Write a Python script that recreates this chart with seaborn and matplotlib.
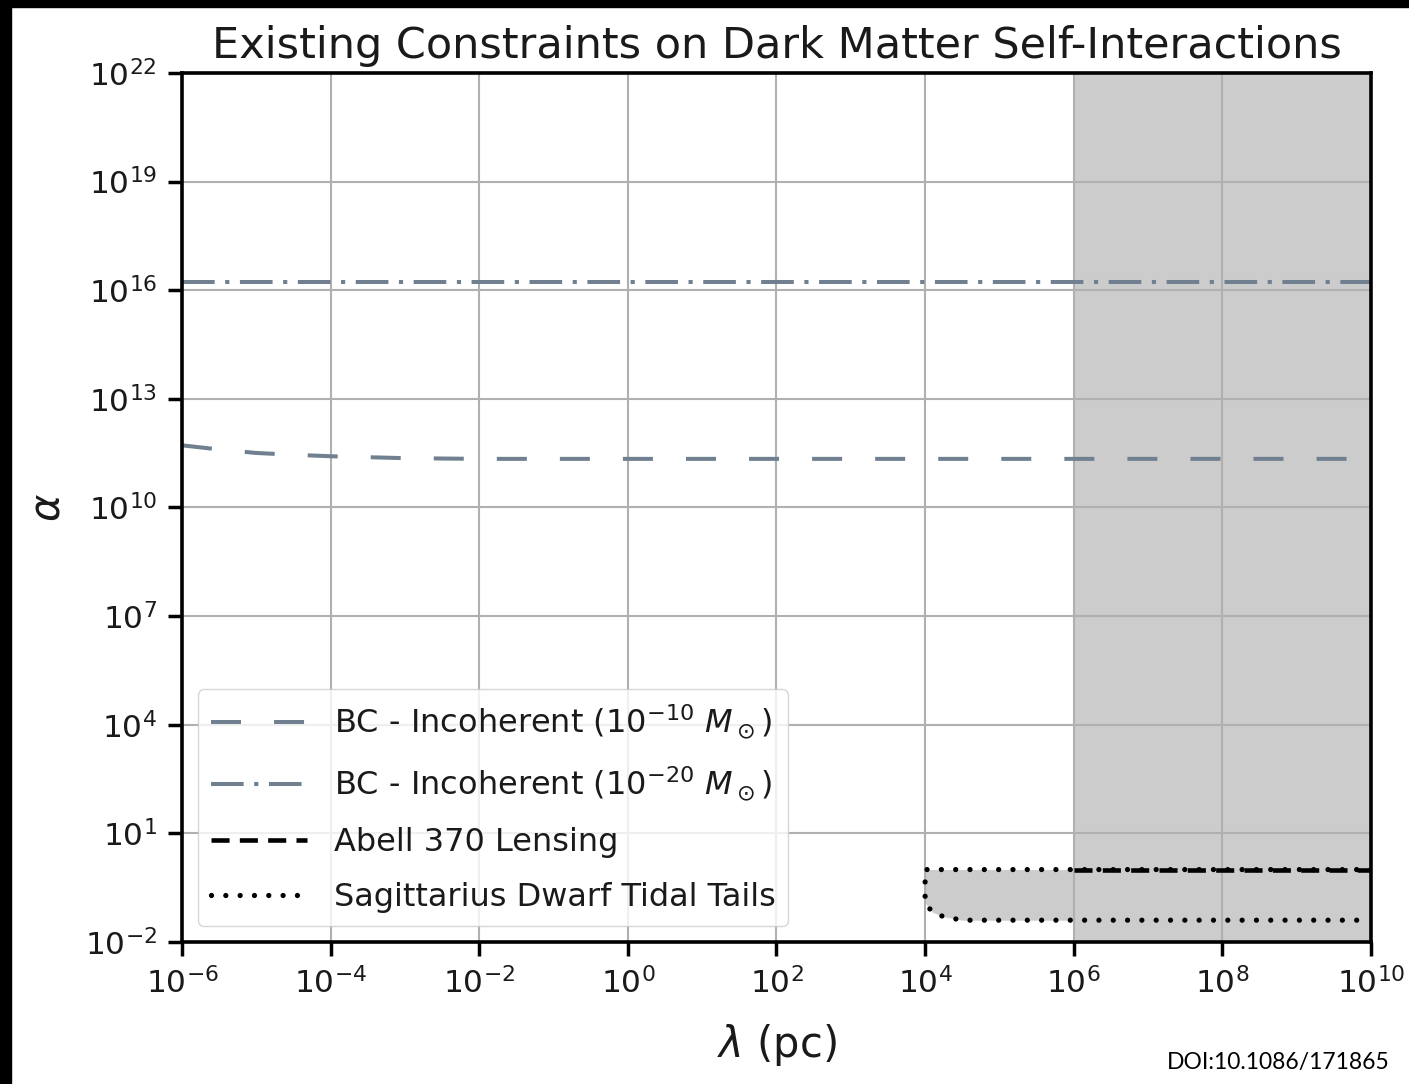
import numpy as np
import pandas as pd
import matplotlib
matplotlib.use("Agg")
import matplotlib.pyplot as plt
from matplotlib.patches import Rectangle
from matplotlib.ticker import NullLocator
import seaborn as sns

# ---- data -------------------------------------------------------------
# BC - incoherent bound for 1e-10 solar masses
bc10_lam = [1e-6, 10**-5.5, 1e-5, 10**-4.5, 1e-4, 1e-3, 1e-2, 1e0, 1e2, 1e4, 1e6, 1e8, 1e10]
bc10_alpha = [5.2e11, 4.0e11, 3.2e11, 2.85e11, 2.6e11, 2.3e11, 2.2e11, 2.2e11,
              2.2e11, 2.2e11, 2.2e11, 2.2e11, 2.2e11]

# BC - incoherent bound for 1e-20 solar masses
bc20_lam = [1e-6, 1e-2, 1e2, 1e6, 1e10]
bc20_alpha = [1.7e16, 1.7e16, 1.7e16, 1.7e16, 1.7e16]

# Abell 370 lensing
abell_lam = [1e6, 1e10]
abell_alpha = [1.0, 1.0]

# Sagittarius dwarf tidal tails: upper and lower edges of the excluded band
sag_lam = [1e4, 10**4.1, 10**4.25, 10**4.5, 1e6, 1e8, 1e10]
sag_lower = [0.12, 0.066, 0.05, 0.04, 0.04, 0.04, 0.04]
sag_upper = [1.0, 1.0, 1.0, 1.0, 1.0, 1.0, 1.0]

# range where the halo constraints apply (shaded band)
band_lam = [1e6, 1e10]

x_ticks = [1e-6, 1e-4, 1e-2, 1e0, 1e2, 1e4, 1e6, 1e8, 1e10]
y_ticks = [1e-2, 1e1, 1e4, 1e7, 1e10, 1e13, 1e16, 1e19, 1e22]

labels = [r"BC - Incoherent ($10^{-10}\ M_\odot$)",
          r"BC - Incoherent ($10^{-20}\ M_\odot$)",
          "Abell 370 Lensing",
          "Sagittarius Dwarf Tidal Tails"]

# ---- style ------------------------------------------------------------
sns.set_theme(style="white")
plt.rcParams["font.family"] = ["DejaVu Sans"]
plt.rcParams["mathtext.fontset"] = "dejavusans"
plt.rcParams["lines.scale_dashes"] = False

slate = "#708090"
shade = "#cccccc"
ink = "#1a1a1a"

fig = plt.figure(figsize=(14.09, 10.84), dpi=100)
ax = fig.add_axes([0.1292, 0.131, 0.8438, 0.8017])
ax.set_xscale("log")
ax.set_yscale("log")

# shaded regions
ax.axvspan(band_lam[0], band_lam[1], color=shade, lw=0, zorder=1)
ax.fill_between(sag_lam, sag_lower, sag_upper, color=shade, lw=0, zorder=1)

# lines
sns.lineplot(x=bc10_lam, y=bc10_alpha, ax=ax, color=slate, lw=2.9,
             linestyle=(0, (21.6, 23.8)), estimator=None, sort=False, label=labels[0])
sns.lineplot(x=bc20_lam, y=bc20_alpha, ax=ax, color=slate, lw=2.9,
             linestyle=(0, (23.5, 7.6, 3.0, 7.6)), estimator=None, sort=False, label=labels[1])

# closed outline of the Sagittarius band: top edge, left edge, lower edge
sag_outline_x = [sag_lam[-1]] + sag_lam[::-1][1:] + sag_lam
sag_outline_y = [sag_upper[-1]] + sag_upper[::-1][1:] + sag_lower
sag_df = pd.DataFrame({"lam": sag_outline_x, "alpha": sag_outline_y})
sns.lineplot(data=sag_df, x="lam", y="alpha", ax=ax, color="black", lw=3.8,
             linestyle=(0, (0.01, 10.3)), dash_capstyle="round",
             estimator=None, sort=False, label=labels[3])

sns.lineplot(x=abell_lam, y=abell_alpha, ax=ax, color="black", lw=3.3,
             linestyle=(0, (13.0, 7.4)), estimator=None, sort=False, label=labels[2])

ax.set_xlim(1e-6, 1e10)
ax.set_ylim(1e-2, 1e22)
ax.set_xticks(x_ticks)
ax.set_yticks(y_ticks)
ax.xaxis.set_minor_locator(NullLocator())
ax.yaxis.set_minor_locator(NullLocator())

ax.grid(True, which="major", color="#b0b0b0", lw=1.5)
ax.set_axisbelow("line")

for sp in ax.spines.values():
    sp.set_visible(True)
    sp.set_color("black")
    sp.set_linewidth(2.6)

ax.tick_params(axis="both", which="major", direction="out", length=10, width=2.5,
               labelsize=22.5, pad=8, color="black", labelcolor=ink,
               bottom=True, left=True)

ax.set_title("Existing Constraints on Dark Matter Self-Interactions",
             fontsize=31, pad=11, color=ink)
ax.set_xlabel(r"$\lambda$ (pc)", fontsize=30, labelpad=16, color=ink)
ax.set_ylabel(r"$\alpha$", fontsize=30, labelpad=12, color=ink)

handles, labs = ax.get_legend_handles_labels()
order = [labs.index(l) for l in labels]
leg = ax.legend([handles[i] for i in order], [labs[i] for i in order],
                loc="lower left", fontsize=23, handlelength=3.0, handletextpad=0.85,
                labelspacing=0.75, borderaxespad=0.5, framealpha=0.8,
                edgecolor="#cccccc", fancybox=True)
for t in leg.get_texts():
    t.set_color(ink)

# black frame strips along the top and left edges
fig.patches.append(Rectangle((0, 1 - 7 / 1084), 1, 7 / 1084, transform=fig.transFigure,
                             color="black", zorder=10))
fig.patches.append(Rectangle((0, 0), 11 / 1409, 1, transform=fig.transFigure,
                             color="black", zorder=10))

fig.text(1167 / 1409, 1 - 1069 / 1084, "DOI:10.1086/171865", fontsize=16.5,
         family=["Lato", "DejaVu Sans"], color="black", ha="left", va="baseline")

fig.savefig("out.png", dpi=100)
